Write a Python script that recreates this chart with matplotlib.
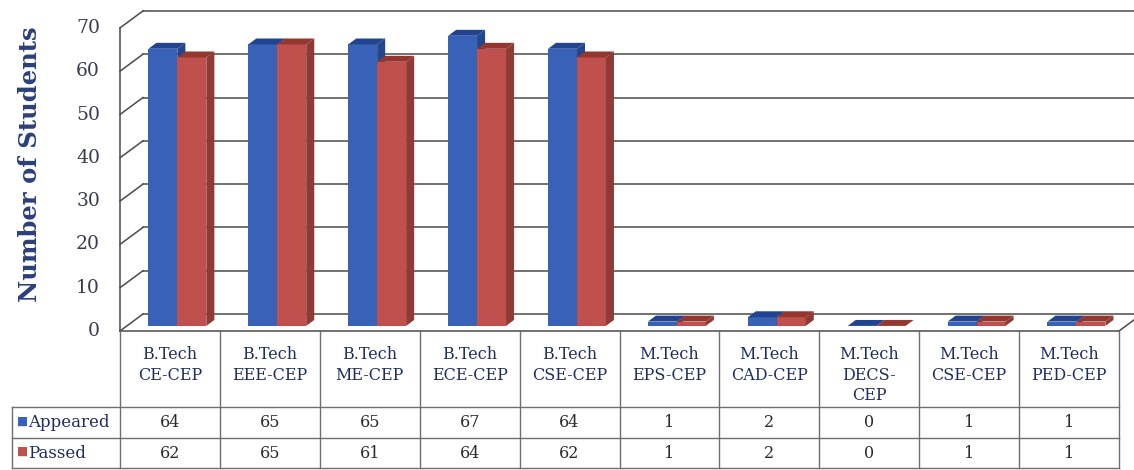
import matplotlib
matplotlib.use("Agg")
import matplotlib.pyplot as plt
from matplotlib.patches import Polygon

# ---------------- data ----------------
categories = ["B.Tech\nCE-CEP", "B.Tech\nEEE-CEP", "B.Tech\nME-CEP", "B.Tech\nECE-CEP",
              "B.Tech\nCSE-CEP", "M.Tech\nEPS-CEP", "M.Tech\nCAD-CEP", "M.Tech\nDECS-\nCEP",
              "M.Tech\nCSE-CEP", "M.Tech\nPED-CEP"]
appeared = [64, 65, 65, 67, 64, 1, 2, 0, 1, 1]
passed = [62, 65, 61, 64, 62, 1, 2, 0, 1, 1]
series_names = ["Appeared", "Passed"]
y_ticks = [0, 10, 20, 30, 40, 50, 60, 70]
y_label = "Number of Students"

# ---------------- layout ----------------
W, H = 1134, 470
COLW = 99.9          # px per category column
UNIT = 4.33          # px per student
X0PX, Y0PX = 120, 331  # front-left corner of floor (value 0)

fig = plt.figure(figsize=(W / 100, H / 100), dpi=100)
ax = fig.add_axes([0, 0, 1, 1])
ax.set_xlim(-X0PX / COLW, (W - X0PX) / COLW)
ax.set_ylim(-(H - Y0PX) / UNIT, Y0PX / UNIT)
ax.axis("off")

serif = "DejaVu Serif"
n = len(categories)
ymax = max(y_ticks)
DX, DY = 23 / COLW, 17 / UNIT   # depth of the 3D box
grid_c = "#4a4a4a"

# back wall gridlines + left wall diagonals
for v in y_ticks:
    ax.plot([DX, n + DX + 1], [v + DY, v + DY], color=grid_c, lw=1.1, zorder=1)
    ax.plot([0, DX], [v, v + DY], color=grid_c, lw=1.1, zorder=1)
# left wall front edge
ax.plot([0, 0], [0, ymax], color=grid_c, lw=1.1, zorder=1)
# floor edges
ax.plot([0, n], [0, 0], color=grid_c, lw=1.1, zorder=1)
ax.plot([n, n + DX], [0, DY], color=grid_c, lw=1.1, zorder=1)

# bars
BW = 0.29
D0 = 0.30   # bar position inside depth (fraction)
BD = 0.35   # bar depth (fraction)
sx, sy = D0 * DX, D0 * DY
bx, by = BD * DX, BD * DY
colors = {
    "Appeared": ("#3762B8", "#22448E", "#24468C"),
    "Passed": ("#C0504D", "#94372F", "#8E3A35"),
}


def draw_bar(x0, h, cols, z):
    front, top, side = cols
    x1 = x0 + BW
    y0 = sy
    y1 = sy + h
    ax.add_patch(Polygon([(x0, y0), (x1, y0), (x1, y1), (x0, y1)], closed=True,
                         facecolor=front, edgecolor="none", zorder=z))
    ax.add_patch(Polygon([(x1, y0), (x1 + bx, y0 + by), (x1 + bx, y1 + by), (x1, y1)],
                         closed=True, facecolor=side, edgecolor="none", zorder=z))
    ax.add_patch(Polygon([(x0, y1), (x1, y1), (x1 + bx, y1 + by), (x0 + bx, y1 + by)],
                         closed=True, facecolor=top, edgecolor="none", zorder=z))


for i in range(n):
    base = i + 0.215 + sx
    draw_bar(base, appeared[i], colors["Appeared"], 3 + 2 * i)
    draw_bar(base + BW, passed[i], colors["Passed"], 4 + 2 * i)

# y tick labels and axis label
for v in y_ticks:
    ax.text(-0.2, v, str(v), ha="right", va="center", fontsize=13.5,
            family=serif, color="#3b3b4f")
ax.text(-1.2 + 30 / COLW, 38.5, y_label, rotation=90, ha="center", va="center",
        fontsize=17.5, fontweight="bold", family=serif, color="#2B3F7A")

# ---------------- data table ----------------
tab_c = "#6e6e6e"
hdr_b = -(407 - Y0PX) / UNIT
r1_b = -(438 - Y0PX) / UNIT
r2_b = -(468 - Y0PX) / UNIT
leg_l = (12 - X0PX) / COLW

for i in range(n + 1):
    ax.plot([i, i], [0, r2_b], color=tab_c, lw=1.0, zorder=2)
for yv in (hdr_b, r1_b, r2_b):
    ax.plot([leg_l, n], [yv, yv], color=tab_c, lw=1.0, zorder=2)
ax.plot([leg_l, leg_l], [hdr_b, r2_b], color=tab_c, lw=1.0, zorder=2)

for i, cat in enumerate(categories):
    ax.text(i + 0.5, -(346 - Y0PX) / UNIT, cat, ha="center", va="top", fontsize=11.5,
            family=serif, color="#1F2C5E", linespacing=1.28)

rows = [(appeared, r1_b, hdr_b), (passed, r2_b, r1_b)]
for name, (vals, lo, hi) in zip(series_names, rows):
    yc = (lo + hi) / 2
    ax.text(leg_l + 5 / COLW, yc + 0.3, "\u25A0", ha="left", va="center", fontsize=8.5,
            color=colors[name][0], family="DejaVu Sans")
    ax.text(leg_l + 16 / COLW, yc, name, ha="left", va="center", fontsize=12,
            family=serif, color="#1F2C5E")
    for i, v in enumerate(vals):
        ax.text(i + 0.5, yc, str(v), ha="center", va="center", fontsize=11.5,
                family=serif, color="#2a2a2a")

fig.savefig("out.png", dpi=100)
